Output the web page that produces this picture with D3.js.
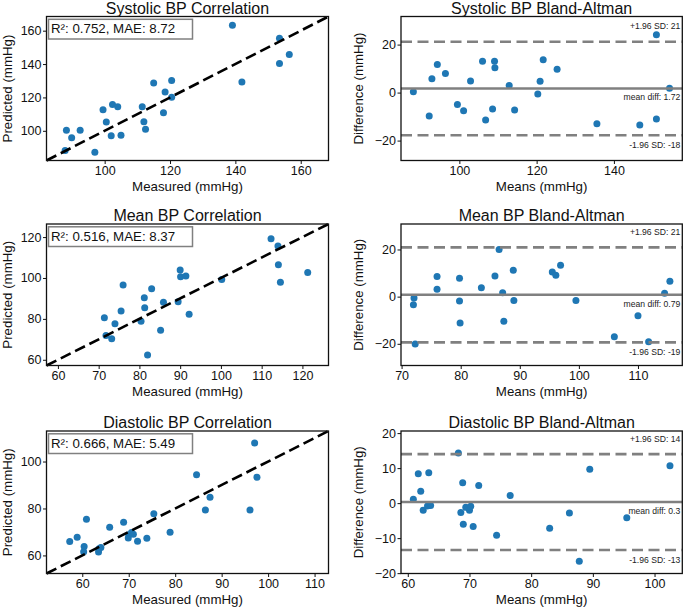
<!DOCTYPE html>
<html>
<head>
<meta charset="utf-8">
<script src="https://cdn.jsdelivr.net/npm/d3@7"></script>
<style>
  body { margin: 0; background: #fff; }
  svg text { font-family: "Liberation Sans", Arial, Helvetica, sans-serif; }
</style>
</head>
<body>
<svg id="chart" width="685" height="608"></svg>
<script>
// ---- data ----
const sysMeasured  = [88.3, 89.9, 92.5, 87.9, 97.0, 99.5, 100.5, 102.4, 104.0, 102.0, 105.0, 111.5, 112.0, 112.5, 115.0, 118.0, 118.5, 120.5, 120.5, 139.1, 142.0, 153.5, 153.5, 156.5];
const sysPredicted = [100.4, 95.8, 100.4, 88.2, 87.2, 112.6, 105.2, 115.7, 114.4, 97.0, 97.4, 114.4, 105.4, 101.0, 128.7, 110.8, 123.3, 130.1, 120.1, 163.2, 129.3, 155.4, 140.3, 145.8];
const sysMeans = [88.1, 92.2, 92.9, 94.3, 96.4, 99.5, 101.1, 102.9, 106.0, 106.8, 108.6, 109.1, 109.2, 112.9, 114.3, 120.3, 120.9, 121.7, 125.3, 135.6, 146.7, 151.0, 151.0, 154.4];
const sysDiffs = [0.3, -9.8, 5.8, 11.7, 8.0, -5.0, -7.6, 4.8, 13.1, -11.4, -6.8, 13.1, 10.3, 2.9, -7.3, -0.6, 4.7, 13.7, 9.7, -13.0, -13.5, -11.0, 24.1, 1.8];

const mapMeasured  = [71.4, 71.8, 73.2, 74.0, 75.5, 76.0, 80.4, 81.2, 81.3, 82.0, 83.0, 85.2, 85.9, 89.5, 90.0, 90.1, 91.4, 92.2, 100.2, 112.3, 114.0, 114.1, 114.6, 121.3];
const mapPredicted = [80.5, 71.9, 70.3, 77.6, 83.9, 96.6, 78.9, 90.3, 85.5, 62.3, 94.7, 74.5, 88.1, 88.4, 103.9, 100.6, 101.0, 82.3, 99.2, 119.2, 115.6, 106.5, 97.9, 102.7];
const mapMeans = [72.1, 72.0, 72.3, 76.0, 76.0, 79.8, 79.8, 79.9, 83.5, 85.8, 86.5, 87.1, 87.3, 88.9, 89.0, 95.5, 96.1, 96.9, 99.5, 106.0, 110.0, 111.8, 114.5, 115.4];
const mapDiffs = [-0.6, -3.4, -20.1, 3.1, 8.5, 7.8, -1.8, -11.2, 3.8, 8.7, 20.0, 1.7, -10.4, 11.2, -1.6, 10.4, 9.1, 13.3, -1.6, -17.0, -8.1, -19.1, 1.4, 6.5];

const diaMeasured  = [57.3, 58.9, 60.3, 60.4, 60.9, 63.5, 63.6, 64.0, 65.9, 68.9, 69.9, 70.0, 70.6, 71.0, 71.9, 73.9, 75.4, 78.9, 84.6, 86.5, 87.5, 96.1, 97.1, 97.6];
const diaPredicted = [65.9, 67.7, 61.6, 63.8, 75.4, 61.5, 62.8, 63.4, 72.0, 74.1, 67.4, 68.8, 69.8, 69.0, 66.0, 67.3, 77.8, 69.9, 94.4, 79.4, 84.8, 79.4, 107.9, 93.3];
const diaMeans = [60.9, 61.7, 62.1, 62.5, 63.2, 63.7, 63.4, 68.2, 68.6, 68.9, 69.0, 69.4, 70.0, 70.2, 70.6, 71.5, 74.4, 76.6, 83.0, 86.2, 87.8, 89.5, 95.5, 102.5];
const diaDiffs = [1.1, 8.4, 3.4, -2.0, -0.8, -0.7, 8.7, 14.3, -2.7, 5.8, -6.0, -1.2, -2.0, -0.9, -6.7, 5.0, -9.2, 2.2, -7.2, -2.8, -16.6, 9.7, -4.2, 10.7];

const bpNames = ["Systolic", "Mean", "Diastolic"];
const r2Values = ["0.752", "0.516", "0.666"];
const maeValues = ["8.72", "8.37", "5.49"];
const meanDiffs = [1.72, 0.79, 0.3];
const meanDiffLabels = ["1.72", "0.79", "0.3"];
const upperLoa = [21.2, 20.9, 14.0];
const lowerLoa = [-17.8, -19.4, -13.4];
const upperLabels = ["21", "21", "14"];
const lowerLabels = ["-18", "-19", "-13"];

// axis limits and ticks
const corrLims = [[82.2, 168.5], [57.2, 126.4], [52.3, 113.0]];
const corrXTicks = [[100, 120, 140, 160], [60, 70, 80, 90, 100, 110, 120], [60, 70, 80, 90, 100, 110]];
const corrYTicks = [[100, 120, 140, 160], [60, 80, 100, 120], [60, 80, 100]];
const baXLims = [[84.9, 157.7], [69.9, 117.5], [58.9, 104.5]];
const baYLims = [[-28.3, 31.7], [-29.2, 30.8], [-20.1, 20.6]];
const baXTicks = [[100, 120, 140], [70, 80, 90, 100, 110], [60, 70, 80, 90, 100]];
const baYTicks = [[-20, 0, 20], [-20, 0, 20], [-20, -10, 0, 10, 20]];

// ---- layout ----
const svg = d3.select("#chart");
const colX = [[46.5, 328.5], [401, 682.3]];
const rowY = [[16.5, 160.5], [224, 365.5], [431, 573.5]];
const dotColor = "#1f77b4";
const fmt = d3.format("d");

function drawAxes(g, x, y, xTicks, yTicks, L, R, T, B) {
  let xAxis = d3.axisBottom(x).tickValues(xTicks).tickSize(3.5).tickPadding(2.6).tickFormat(fmt);
  let xg = g.append("g").attr("transform", "translate(0," + B + ")").call(xAxis);
  let yAxis = d3.axisLeft(y).tickValues(yTicks).tickSize(3.5).tickPadding(1.5).tickFormat(fmt);
  let yg = g.append("g").attr("transform", "translate(" + L + ",0)").call(yAxis);
  [xg, yg].forEach(a => {
    a.select(".domain").remove();
    a.attr("color", "#111");
    a.selectAll("text").style("font-size", "12.5px").attr("fill", "#111");
    a.selectAll("line").attr("stroke-width", 1);
  });
  g.append("rect")
    .attr("x", L).attr("y", T)
    .attr("width", R - L).attr("height", B - T)
    .attr("fill", "none").attr("stroke", "#111").attr("stroke-width", 1.3);
}

function labels(g, title, xlab, ylab, L, R, T, B, ylabX) {
  g.append("text").attr("x", (L + R) / 2).attr("y", T - 3)
    .attr("text-anchor", "middle").style("font-size", "16px").attr("fill", "#111").text(title);
  g.append("text").attr("x", (L + R) / 2).attr("y", B + 30)
    .attr("text-anchor", "middle").style("font-size", "13.3px").attr("fill", "#111").text(xlab);
  g.append("text").attr("transform", "translate(" + ylabX + "," + ((T + B) / 2) + ") rotate(-90)")
    .attr("text-anchor", "middle").style("font-size", "13.3px").attr("fill", "#111").text(ylab);
}

bpNames.forEach((name, i) => {
  let measured = [sysMeasured, mapMeasured, diaMeasured][i];
  let predicted = [sysPredicted, mapPredicted, diaPredicted][i];
  let means = [sysMeans, mapMeans, diaMeans][i];
  let diffs = [sysDiffs, mapDiffs, diaDiffs][i];
  let [T, B] = rowY[i];

  // correlation panel
  let [L, R] = colX[0];
  let g = svg.append("g").attr("class", "corr");
  let lim = corrLims[i];
  let x = d3.scaleLinear().domain(lim).range([L, R]);
  let y = d3.scaleLinear().domain(lim).range([B, T]);
  let pts = measured.map((m, k) => ({ m: m, p: predicted[k] }));

  g.selectAll("circle").data(pts).enter().append("circle")
    .attr("cx", d => x(d.m)).attr("cy", d => y(d.p))
    .attr("r", 3.5).attr("fill", dotColor);
  g.append("line")
    .attr("x1", x(lim[0])).attr("y1", y(lim[0]))
    .attr("x2", x(lim[1])).attr("y2", y(lim[1]))
    .attr("stroke", "#000").attr("stroke-width", 2.6).attr("stroke-dasharray", "11,5");
  drawAxes(g, x, y, corrXTicks[i], corrYTicks[i], L, R, T, B);

  g.append("rect").attr("x", L + 2).attr("y", T + 2.8).attr("width", 144).attr("height", 19.7)
    .attr("fill", "#fff").attr("stroke", "#808080").attr("stroke-width", 1.5);
  g.append("text").attr("x", L + 4.5).attr("y", T + 16.8)
    .style("font-size", "13.3px").attr("fill", "#111")
    .text("R\u00b2: " + r2Values[i] + ", MAE: " + maeValues[i]);
  labels(g, name + " BP Correlation", "Measured (mmHg)", "Predicted (mmHg)", L, R, T, B, 12);

  // Bland-Altman panel
  [L, R] = colX[1];
  let ga = svg.append("g").attr("class", "bland");
  let bx = d3.scaleLinear().domain(baXLims[i]).range([L, R]);
  let by = d3.scaleLinear().domain(baYLims[i]).range([B, T]);
  let bpts = means.map((m, k) => ({ m: m, d: diffs[k] }));

  ga.selectAll("circle").data(bpts).enter().append("circle")
    .attr("cx", d => bx(d.m)).attr("cy", d => by(d.d))
    .attr("r", 3.5).attr("fill", dotColor);
  [upperLoa[i], meanDiffs[i], lowerLoa[i]].forEach((v, k) => {
    ga.append("line")
      .attr("x1", L).attr("x2", R).attr("y1", by(v)).attr("y2", by(v))
      .attr("stroke", "#808080").attr("stroke-width", 2.6)
      .attr("stroke-dasharray", k == 1 ? null : "11,5.5");
  });
  drawAxes(ga, bx, by, baXTicks[i], baYTicks[i], L, R, T, B);

  let small = [
    { y: by(upperLoa[i]) - 12.5, t: "+1.96 SD: " + upperLabels[i] },
    { y: by(meanDiffs[i]) + 12, t: "mean diff: " + meanDiffLabels[i] },
    { y: by(lowerLoa[i]) + 12.5, t: "-1.96 SD: " + lowerLabels[i] }
  ];
  ga.selectAll(".loa").data(small).enter().append("text").attr("class", "loa")
    .attr("x", R - 2).attr("y", d => d.y)
    .attr("text-anchor", "end").style("font-size", "8.6px").attr("fill", "#222")
    .text(d => d.t);
  labels(ga, name + " BP Bland-Altman", "Means (mmHg)", "Difference (mmHg)", L, R, T, B, 363);
});
</script>
</body>
</html>
